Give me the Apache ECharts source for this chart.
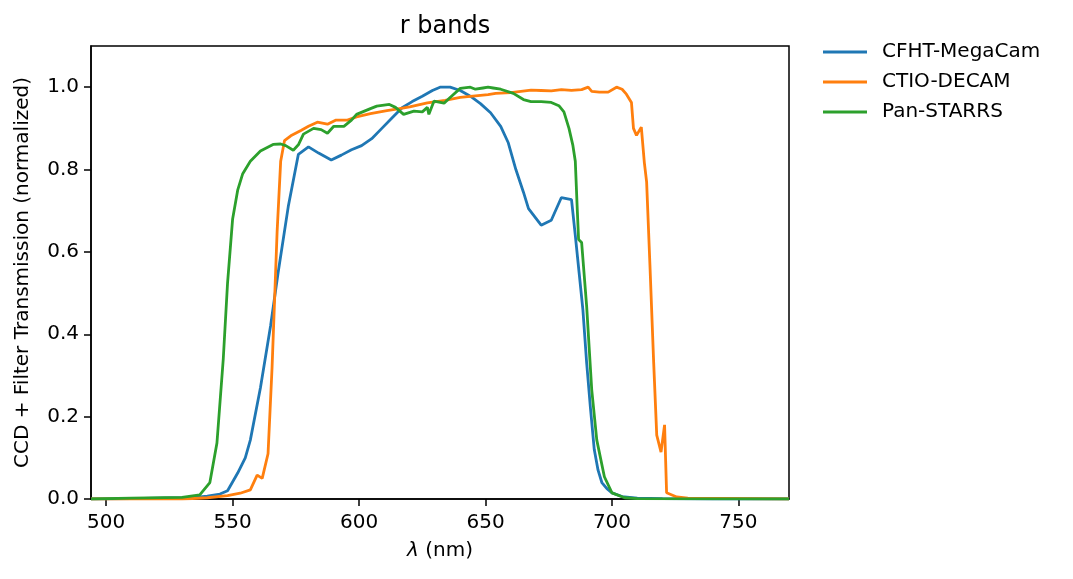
<!DOCTYPE html>
<html>
<head>
<meta charset="utf-8">
<script src="https://cdn.jsdelivr.net/npm/echarts@6/dist/echarts.min.js"></script>
<style>
  html, body { margin: 0; padding: 0; background: #fff; }
  #chart { width: 1073px; height: 579px; }
</style>
</head>
<body>
<div id="chart"></div>
<script>
// wavelengths (nm) and normalized transmission
const cfhtWl = [494, 510, 520, 530, 535, 540, 545, 548, 552, 555, 557, 561, 565, 568, 572, 576, 580, 584, 589, 593, 597, 601, 605, 609, 613, 617, 621, 625, 629, 632, 636, 640, 644, 648, 652, 656, 659, 662, 665, 667, 672, 676, 680, 684, 685.5, 687, 688.5, 690, 691.5, 693, 694.5, 696, 698, 700, 704, 710, 720, 740, 770];
const cfhtVal = [0, 0.001, 0.002, 0.003, 0.004, 0.007, 0.012, 0.02, 0.063, 0.1, 0.143, 0.27, 0.42, 0.55, 0.71, 0.837, 0.855, 0.84, 0.823, 0.835, 0.848, 0.858, 0.875, 0.9, 0.925, 0.95, 0.965, 0.978, 0.992, 1.0, 1.0, 0.992, 0.978, 0.96, 0.938, 0.905, 0.865, 0.8, 0.745, 0.705, 0.665, 0.677, 0.732, 0.727, 0.64, 0.55, 0.46, 0.33, 0.22, 0.12, 0.07, 0.04, 0.025, 0.015, 0.006, 0.002, 0.001, 0, 0];

const decamWl = [494, 530, 540, 548, 553, 557, 559.7, 561.7, 564, 565.6, 567.6, 569, 570.5, 573, 577, 580, 583.5, 587.5, 590.7, 595.4, 599, 604.5, 611, 616, 620, 627, 634, 640, 646, 651, 654, 660, 664, 668, 672, 676, 680, 684, 688, 690.6, 692, 695, 698.5, 701.8, 704, 705.7, 707.7, 708.5, 709.7, 711.6, 712.8, 713.7, 715, 716.5, 717.7, 719.4, 720.8, 721.6, 725.6, 730, 770];
const decamVal = [0, 0, 0.003, 0.008, 0.014, 0.022, 0.058, 0.05, 0.11, 0.32, 0.65, 0.82, 0.87, 0.882, 0.895, 0.905, 0.915, 0.91, 0.92, 0.92, 0.928, 0.936, 0.943, 0.948, 0.952, 0.962, 0.968, 0.975, 0.979, 0.982, 0.985, 0.987, 0.99, 0.993, 0.992, 0.991, 0.994, 0.992, 0.994, 1.0, 0.99, 0.988, 0.988, 1.0, 0.995, 0.983, 0.963, 0.9, 0.883, 0.903, 0.817, 0.77, 0.57, 0.33, 0.155, 0.114, 0.18, 0.015, 0.005, 0.002, 0];

const ps1Wl = [494, 510, 530, 537, 541, 543.8, 546.3, 548, 550, 552, 554, 557, 561, 566, 569, 571, 574, 576, 578, 582, 585, 587.5, 590, 594, 597, 599, 604.5, 607, 612, 614.4, 617.6, 621.7, 625, 627, 627.6, 629.6, 633.6, 636, 640, 644, 646, 649, 651, 653, 656, 661, 665, 668, 672, 676, 679, 681, 683, 684.5, 685.5, 686.3, 686.8, 688, 690, 692, 694, 697, 700, 705, 710, 770];
const ps1Val = [0, 0.002, 0.004, 0.01, 0.04, 0.136, 0.34, 0.525, 0.68, 0.75, 0.79, 0.82, 0.845, 0.861, 0.862, 0.858, 0.847, 0.86, 0.886, 0.9, 0.897, 0.888, 0.905, 0.905, 0.92, 0.934, 0.948, 0.954, 0.958, 0.951, 0.934, 0.942, 0.94, 0.951, 0.934, 0.966, 0.961, 0.975, 0.997, 1.0, 0.995, 0.998, 1.0, 0.998, 0.995, 0.985, 0.97, 0.965, 0.965, 0.963, 0.955, 0.94, 0.9, 0.86, 0.82, 0.7, 0.63, 0.623, 0.467, 0.265, 0.143, 0.054, 0.015, 0.003, 0.001, 0];

const xTicks = [500, 550, 600, 650, 700, 750];
const yTicks = [0, 0.2, 0.4, 0.6, 0.8, 1.0];

const bands = [
  { name: 'CFHT-MegaCam', wl: cfhtWl, val: cfhtVal, color: '#1f77b4' },
  { name: 'CTIO-DECAM', wl: decamWl, val: decamVal, color: '#ff7f0e' },
  { name: 'Pan-STARRS', wl: ps1Wl, val: ps1Val, color: '#2ca02c' },
];

const font = 'DejaVu Sans';
const chart = echarts.init(document.getElementById('chart'));

const option = {
  animation: false,
  title: {
    text: 'r bands',
    left: 440,
    top: 10,
    textAlign: 'center',
    textStyle: { fontFamily: font, fontSize: 24, fontWeight: 'normal', color: '#000' },
  },
  legend: {
    orient: 'vertical',
    left: 823,
    top: 42,
    padding: 0,
    icon: 'rect',
    itemWidth: 44,
    itemHeight: 3,
    itemGap: 10,
    textStyle: { fontFamily: font, fontSize: 20, color: '#000', lineHeight: 20, padding: [0, 0, 0, 10] },
    data: bands.map(b => b.name),
  },
  grid: {
    left: 91,
    right: 284,
    top: 46,
    bottom: 80,
    show: true,
    borderColor: '#000',
    borderWidth: 1.5,
    backgroundColor: 'transparent',
  },
  xAxis: {
    type: 'value',
    min: 494,
    max: 770,
    name: '{i|λ} (nm)',
    nameLocation: 'middle',
    nameGap: 42,
    nameTextStyle: {
      fontFamily: font, fontSize: 20, color: '#000',
      rich: { i: { fontFamily: font, fontSize: 20, fontStyle: 'italic', color: '#000' } },
    },
    axisLine: { show: true, lineStyle: { color: '#000', width: 1.5 } },
    axisTick: { show: true, length: 7, lineStyle: { color: '#000', width: 1.5 }, customValues: xTicks },
    axisLabel: { fontFamily: font, fontSize: 20, color: '#000', margin: 14, customValues: xTicks },
    splitLine: { show: false },
  },
  yAxis: {
    type: 'value',
    min: 0,
    max: 1.1,
    name: 'CCD + Filter Transmission (normalized)',
    nameLocation: 'middle',
    nameGap: 58,
    nameTextStyle: { fontFamily: font, fontSize: 20, color: '#000' },
    axisLine: { show: true, lineStyle: { color: '#000', width: 1.5 } },
    axisTick: { show: true, length: 7, lineStyle: { color: '#000', width: 1.5 }, customValues: yTicks },
    axisLabel: {
      fontFamily: font, fontSize: 20, color: '#000', margin: 12, customValues: yTicks,
      formatter: v => v.toFixed(1),
    },
    splitLine: { show: false },
  },
  series: bands.map(b => ({
    name: b.name,
    type: 'line',
    showSymbol: false,
    symbol: 'none',
    lineStyle: { color: b.color, width: 2.8 },
    itemStyle: { color: b.color },
    data: b.wl.map((w, i) => [w, b.val[i]]),
  })),
};

chart.setOption(option);
</script>
</body>
</html>
